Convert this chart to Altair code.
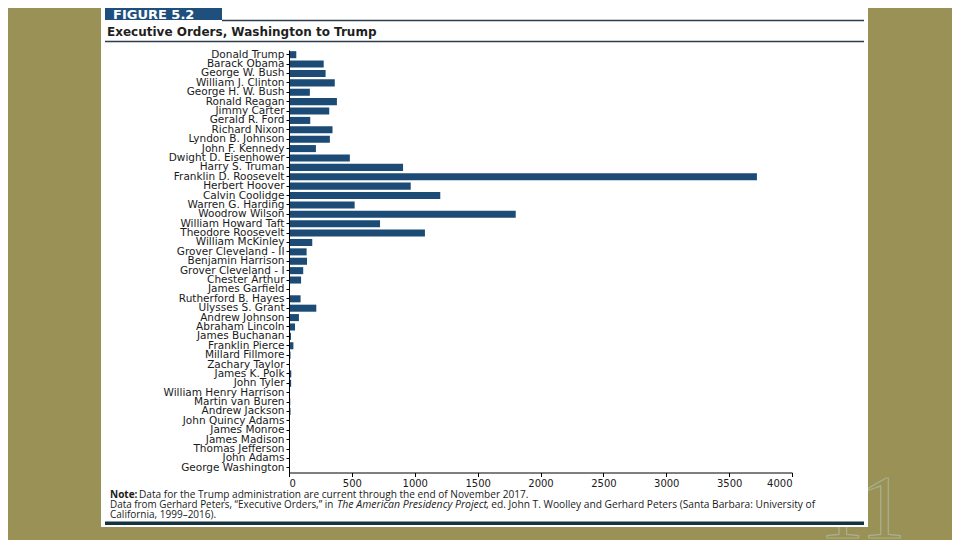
import altair as alt
import pandas as pd

presidents = ["Donald Trump", "Barack Obama", "George W. Bush", "William J. Clinton",
              "George H. W. Bush", "Ronald Reagan", "Jimmy Carter", "Gerald R. Ford",
              "Richard Nixon", "Lyndon B. Johnson", "John F. Kennedy", "Dwight D. Eisenhower",
              "Harry S. Truman", "Franklin D. Roosevelt", "Herbert Hoover", "Calvin Coolidge",
              "Warren G. Harding", "Woodrow Wilson", "William Howard Taft", "Theodore Roosevelt",
              "William McKinley", "Grover Cleveland - II", "Benjamin Harrison", "Grover Cleveland - I",
              "Chester Arthur", "James Garfield", "Rutherford B. Hayes", "Ulysses S. Grant",
              "Andrew Johnson", "Abraham Lincoln", "James Buchanan", "Franklin Pierce",
              "Millard Fillmore", "Zachary Taylor", "James K. Polk", "John Tyler",
              "William Henry Harrison", "Martin van Buren", "Andrew Jackson", "John Quincy Adams",
              "James Monroe", "James Madison", "Thomas Jefferson", "John Adams", "George Washington"]
orders = [58, 276, 291, 364, 166, 381, 320, 169, 346, 325, 214, 484, 907, 3721, 968, 1203,
          522, 1803, 724, 1081, 185, 140, 143, 113, 96, 6, 92, 217, 79, 48, 16, 35, 12, 5,
          18, 17, 0, 10, 12, 3, 1, 1, 4, 1, 8]
x_ticks = [0, 500, 1000, 1500, 2000, 2500, 3000, 3500, 4000]

figure_label = "FIGURE 5.2"
title_text = "Executive Orders, Washington to Trump"
note_bold = "Note:"
note_rest = "Data for the Trump administration are current through the end of November 2017."
src_a = "Data from Gerhard Peters, \u201cExecutive Orders,\u201d in"
src_b = "The American Presidency Project"
src_c = ", ed. John T. Woolley and Gerhard Peters (Santa Barbara: University of"
src_d = "California, 1999\u20132016)."
slide_no = "11"

df = pd.DataFrame({"president": presidents, "orders": orders})
one = pd.DataFrame({"d": [0]})

BG = "#9A9157"
NAVY = "#1C4B75"
LINE = "#2C3E4C"


def rect(x, x2, y, y2, color):
    return alt.Chart(one).mark_rect(color=color).encode(
        x=alt.value(x), x2=alt.value(x2), y=alt.value(y), y2=alt.value(y2))


def rule(x, x2, y, color, w):
    return alt.Chart(one).mark_rule(color=color, strokeWidth=w).encode(
        x=alt.value(x), x2=alt.value(x2), y=alt.value(y))


def text(t, x, y, size, font="Open Sans", weight="normal", color="#1a1a1a", style="normal"):
    return alt.Chart(one).mark_text(text=t, align="left", baseline="middle", font=font,
                                    fontSize=size, fontWeight=weight, color=color,
                                    fontStyle=style).encode(x=alt.value(x), y=alt.value(y))


slide_num = alt.Chart(one).mark_text(text=slide_no, align="left", baseline="alphabetic",
                                     font="Liberation Serif", fontSize=90, fill=BG,
                                     stroke="#A8B08C", strokeWidth=1.2).encode(
    x=alt.value(530), y=alt.value(488))

panel = rect(-188, 579, -50, 477, "white")
header_box = rect(-184, -67, -47, -30, "#1F4F7C")
line1 = rule(-67, 575, -29.5, LINE, 1.5)
line2 = rule(-184, 575, -8.5, LINE, 1.5)
bottom_bar = rect(-184, 575, 471.5, 475, "#16323F")

fig_txt = text(figure_label, -176, -35, 13, font="DejaVu Sans", weight="bold", color="white")
title_txt = text(title_text, -182, -18.5, 12, font="DejaVu Sans", weight="bold", color="#1f1f1f")

n1 = text(note_bold, -179, 445, 10, weight="bold")
n2 = text(note_rest, -150, 445, 10.1)
s1 = text(src_a, -179, 455, 9.9)
s2 = text(src_b, 48, 455, 10.5, style="italic")
s3 = text(src_c, 197, 455, 10.2)
s4 = text(src_d, -179, 464.5, 10)

bars = alt.Chart(df).mark_bar(color=NAVY).encode(
    x=alt.X("orders:Q", scale=alt.Scale(domain=[0, 4000], nice=False),
            axis=alt.Axis(title=None, values=x_ticks, grid=False, tickSize=4,
                          tickColor="black", domainColor="black", labelFont="DejaVu Sans",
                          labelFontSize=10, labelColor="#1a1a1a", labelPadding=2,
                          format="d", zindex=1)),
    y=alt.Y("president:N", sort=presidents,
            scale=alt.Scale(paddingInner=0.25, paddingOuter=0.125),
            axis=alt.Axis(title=None, tickSize=3, tickColor="black", domainColor="black",
                          labelFont="DejaVu Sans", labelFontSize=10.5, labelColor="#1a1a1a",
                          labelPadding=2, labelLimit=300, zindex=1)),
)

chart = alt.layer(
    slide_num, panel, header_box, line1, line2, bottom_bar, fig_txt, title_txt,
    n1, n2, s1, s2, s3, s4, bars
).properties(
    width=503, height=422.5, autosize="none",
    padding={"left": 281, "top": 42, "right": 160, "bottom": 67},
).configure_view(stroke=None).configure(background=BG)

chart.save("out.html", embed_options={"renderer": "svg", "actions": False})
